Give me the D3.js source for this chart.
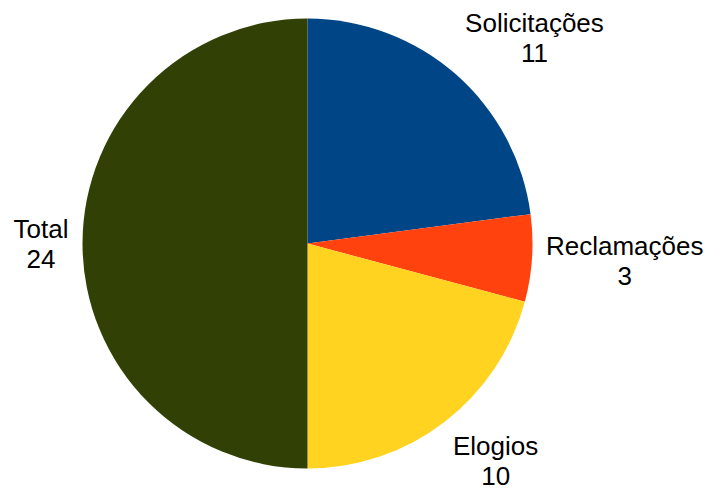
<!DOCTYPE html>
<html><head><meta charset="utf-8">
<script src="https://cdn.jsdelivr.net/npm/d3@7"></script>
<style>body{margin:0;background:#fff}svg{display:block}</style>
</head><body>
<svg id="c" width="706" height="492"></svg>
<script>
const categories = ["Solicitações", "Reclamações", "Elogios", "Total"];
const values = [11, 3, 10, 24];
const colors = ["#004586", "#ff420e", "#ffd320", "#314004"];

const W = 706, H = 492, cx = 307.5, cy = 243.5, r = 225;
const svg = d3.select("#c");
const g = svg.append("g").attr("transform", `translate(${cx},${cy})`);
const data = categories.map((c, i) => ({ name: c, value: values[i], color: colors[i] }));
const pie = d3.pie().sort(null).value(d => d.value);
const arc = d3.arc().innerRadius(0).outerRadius(r);
const arcs = pie(data);
g.selectAll("path").data(arcs).join("path")
  .attr("d", arc).attr("fill", d => d.data.color);

const R = 239, hh = 35;
arcs.forEach(a => {
  const m = (a.startAngle + a.endAngle) / 2;
  const s = Math.sin(m), c = Math.cos(m);
  const t = g.append("text").attr("font-family", "'Liberation Sans', Arial, sans-serif")
    .attr("font-size", 26).attr("fill", "#000").attr("text-anchor", "middle");
  const t1 = t.append("tspan").text(a.data.name);
  const w = t1.node().getComputedTextLength();
  const bx = R * s + Math.sign(s) * w / 2;
  const by = -(R + hh) * c;
  t1.attr("x", bx).attr("y", by - 6);
  t.append("tspan").attr("x", bx).attr("y", by + 24).text(a.data.value);
});
</script>
</body></html>
